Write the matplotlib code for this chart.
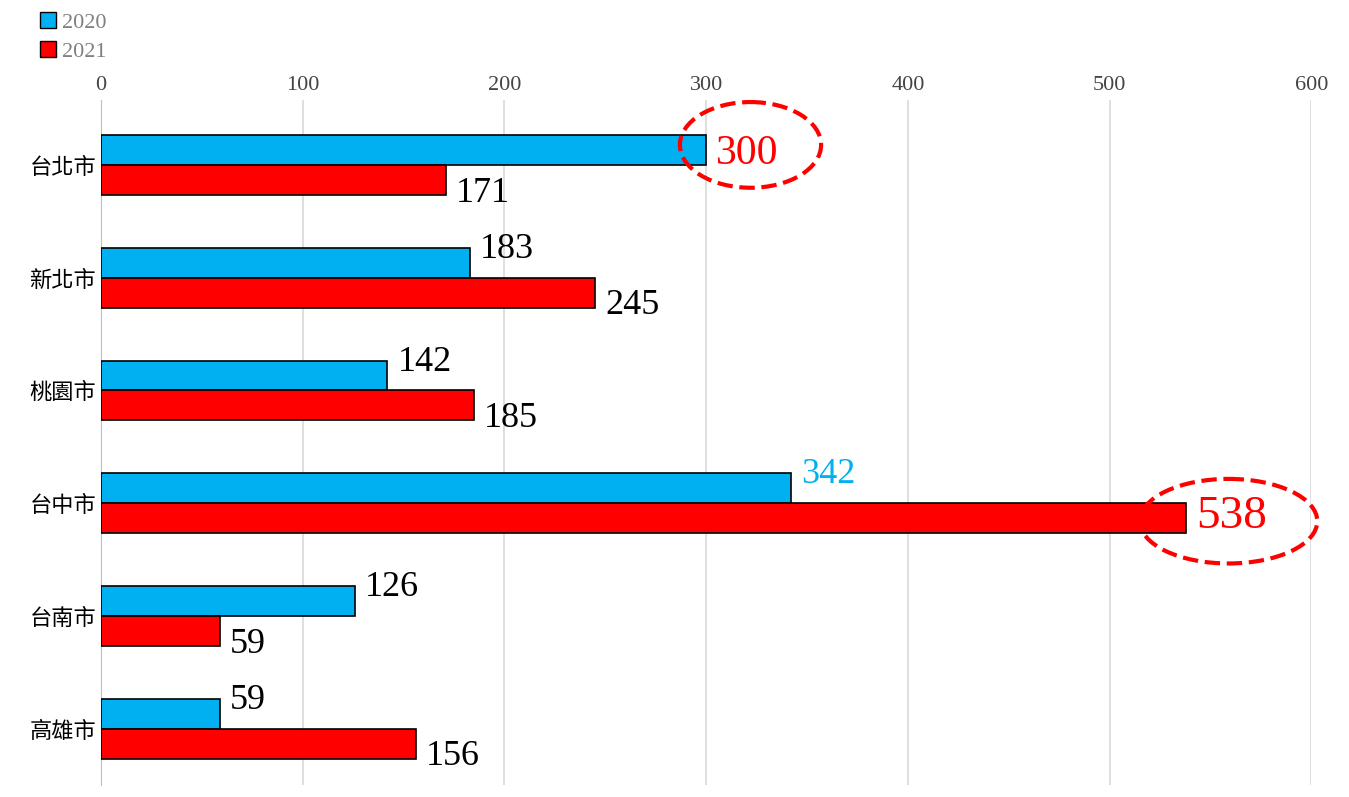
import matplotlib.pyplot as plt
from matplotlib.patches import Ellipse, Patch

cities = ['台北市', '新北市', '桃園市', '台中市', '台南市', '高雄市']
v2020 = [300, 183, 142, 342, 126, 59]
v2021 = [171, 245, 185, 538, 59, 156]

blue = '#00b0f0'
red = '#ff0000'
num_font = dict(family=['Liberation Serif', 'DejaVu Serif'], fontstretch='condensed')

fig = plt.figure(figsize=(13.49, 7.97), dpi=100)
ax = fig.add_axes([0.0749, 0.015, 0.8971, 0.8595])

h = 0.265
ys = list(range(len(cities)))
ax.barh([y - h / 2 for y in ys], v2020, height=h, color=blue, edgecolor='black', lw=1.2, zorder=3)
ax.barh([y + h / 2 for y in ys], v2021, height=h, color=red, edgecolor='black', lw=1.2, zorder=3)

for i, (a, b) in enumerate(zip(v2020, v2021)):
    if i == 0:
        ax.text(a + 5, i - 0.1, str(a), color=red, fontsize=30, va='center', **num_font)
    elif i == 3:
        ax.text(a + 5, i - 0.25, str(a), color=blue, fontsize=26, va='center', **num_font)
    else:
        ax.text(a + 5, i - 0.25, str(a), color='black', fontsize=26, va='center', **num_font)
    if i == 3:
        ax.text(b + 5, i + 0.12, str(b), color=red, fontsize=34, va='center', **num_font)
    else:
        ax.text(b + 5, i + 0.25, str(b), color='black', fontsize=26, va='center', **num_font)

ax.add_patch(Ellipse((322, -0.177), 70, 0.76, fill=False, ec=red, ls='--', lw=3, clip_on=False, zorder=5))
ax.add_patch(Ellipse((559, 3.16), 88, 0.75, fill=False, ec=red, ls='--', lw=3, clip_on=False, zorder=5))

ax.set_xlim(0, 600)
ax.set_ylim(5.5, -0.575)
ax.set_yticks(ys)
ax.set_yticklabels(cities, fontsize=16, family=['Noto Sans CJK TC'])
ax.xaxis.tick_top()
ax.set_xticks(range(0, 601, 100))
ax.set_xticklabels([str(v) for v in range(0, 601, 100)], fontsize=16, color='#444444', **num_font)
ax.tick_params(length=0)
ax.grid(axis='x', color='#d9d9d9', lw=1.2, zorder=0)
for s in ['top', 'right', 'bottom']:
    ax.spines[s].set_visible(False)
ax.spines['left'].set_color('#bfbfbf')

handles = [Patch(fc=blue, ec='black', label='2020'), Patch(fc=red, ec='black', label='2021')]
leg = fig.legend(handles=handles, loc='upper left', bbox_to_anchor=(0.015, 1.01), frameon=False,
                 handlelength=0.7, handleheight=0.7, handletextpad=0.3, labelspacing=0.4,
                 prop=dict(family='Liberation Serif', size=16))
for t in leg.get_texts():
    t.set_color('#808080')

fig.savefig('out.png', dpi=100)
